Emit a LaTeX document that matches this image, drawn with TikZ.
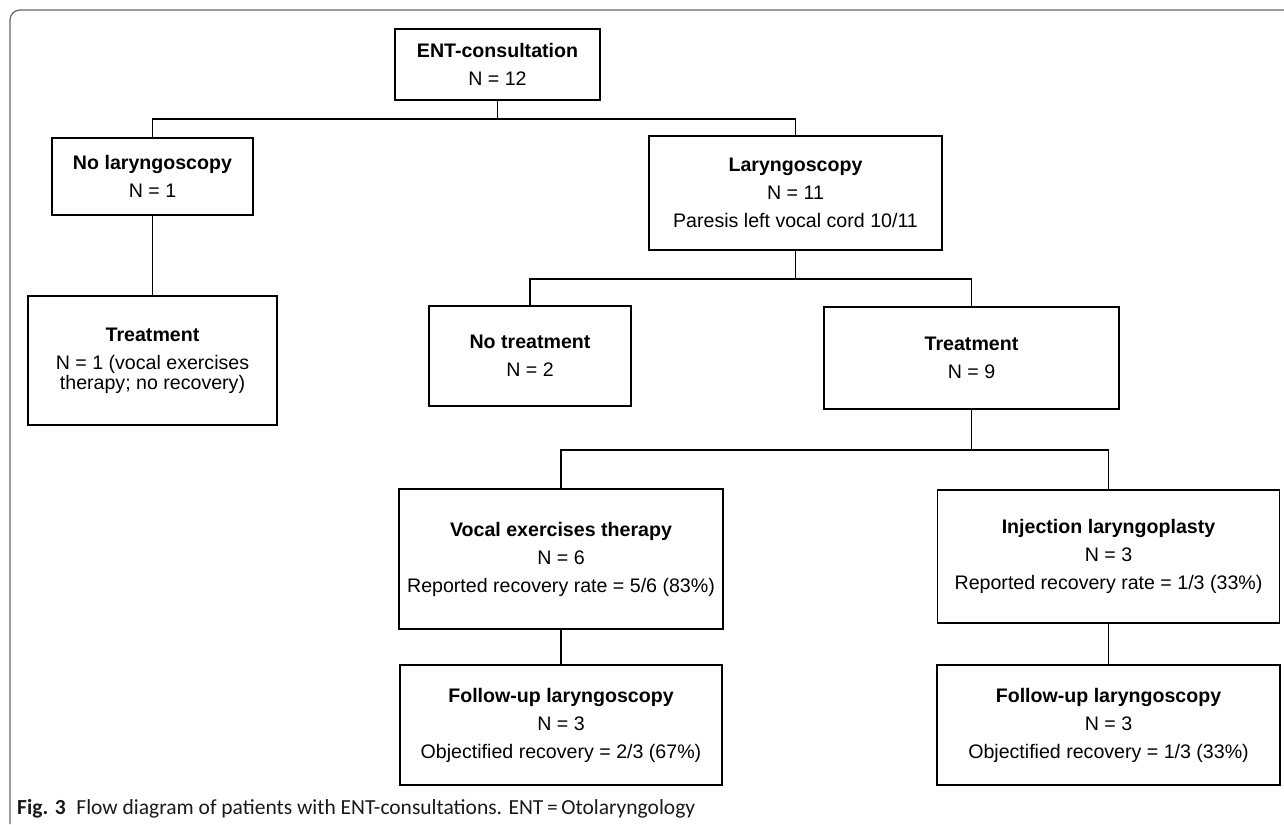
\documentclass[tikz,border=0pt]{standalone}
\usepackage{fontspec}
\setmainfont{Liberation Sans}
\newfontfamily\capfont{Carlito}
\usepackage{tikz}
\usetikzlibrary{positioning,calc}

\begin{document}
\begin{tikzpicture}[x=1pt,y=-1pt,
    box/.style={draw,line width=1.6pt,align=center,inner sep=0pt,
        font=\fontsize{19.6}{28}\selectfont},
    link/.style={line width=1.6pt}]
\useasboundingbox (0,0) rectangle (1284,824);
% Outer frame
\draw[line width=1.2pt,black!60,rounded corners=10pt] (10,824) -- (10,10) -- (1284,10);

% Boxes
\node[box,minimum width=205pt,minimum height=71pt] (ent) at (497.5,64.5)
    {\textbf{ENT-consultation}\\N = 12};
\node[box,minimum width=201pt,minimum height=77pt] (nolar) at (152.5,176.5)
    {\textbf{No laryngoscopy}\\N = 1};
\node[box,minimum width=293pt,minimum height=114pt] (lar) at (795.5,193)
    {\textbf{Laryngoscopy}\\N = 11\\Paresis left vocal cord 10/11};
\node[box,minimum width=249pt,minimum height=129pt] (treatL) at (152.5,360.5)
    {\textbf{Treatment}\\N = 1 (vocal exercises\\[-8pt]therapy; no recovery)};
\node[box,minimum width=202pt,minimum height=100pt] (notreat) at (530,356)
    {\textbf{No treatment}\\N = 2};
\node[box,minimum width=295pt,minimum height=102pt] (treatR) at (971.5,358)
    {\textbf{Treatment}\\N = 9};
\node[box,minimum width=324pt,minimum height=140pt] (vocal) at (561,559)
    {\textbf{Vocal exercises therapy}\\N = 6\\Reported recovery rate = 5/6 (83\%)};
\node[box,minimum width=322pt,minimum height=120pt] (fuL) at (561,725)
    {\textbf{Follow-up laryngoscopy}\\N = 3\\Objectified recovery = 2/3 (67\%)};
\node[box,minimum width=342pt,minimum height=133pt] (inj) at (1108.5,556.5)
    {\textbf{Injection laryngoplasty}\\N = 3\\Reported recovery rate = 1/3 (33\%)};
\node[box,minimum width=343pt,minimum height=120pt] (fuR) at (1108.5,725)
    {\textbf{Follow-up laryngoscopy}\\N = 3\\Objectified recovery = 1/3 (33\%)};

% Connectors
\draw[link] (ent.south) -- ++(0,18) -| (nolar.north);
\draw[link] (ent.south) -- ++(0,18) -| (lar.north);
\draw[link] (nolar.south) -- (treatL.north);
\draw[link] (lar.south) -- ++(0,28) -| (notreat.north);
\draw[link] (lar.south) -- ++(0,28) -| (treatR.north);
\draw[link] (treatR.south) -- ++(0,40) -| (vocal.north);
\draw[link] (treatR.south) -- ++(0,40) -| (inj.north);
\draw[link] (vocal.south) -- (fuL.north);
\draw[link] (inj.south) -- (fuR.north);

% Caption
\node[anchor=base west,inner sep=0pt,text=black!90,
    font=\capfont\fontsize{21.5}{24}\selectfont] (cap) at (17,814)
    {\textbf{Fig. 3}\hspace{0.5em}Flow diagram of patients with ENT-consultations. ENT\,=\,Otolaryngology};
\end{tikzpicture}
\end{document}
